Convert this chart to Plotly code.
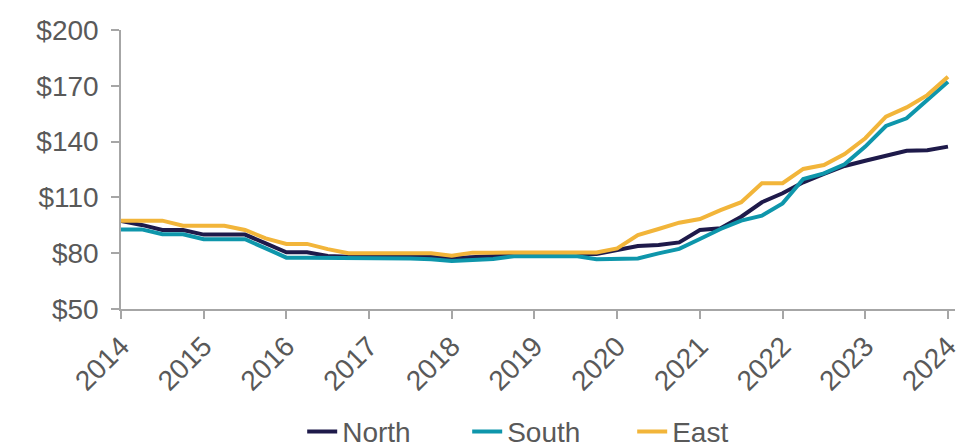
import plotly.graph_objects as go

quarters = [2014 + i * 0.25 for i in range(41)]
year_ticks = list(range(2014, 2025))
year_labels = [str(y) for y in year_ticks]
y_ticks = [50, 80, 110, 140, 170, 200]
y_labels = ["$" + str(v) for v in y_ticks]

north = [97.3, 95.2, 92.5, 92.5,
         90.0, 90.0, 90.0, 85.3,
         80.5, 80.5, 78.5, 78.1,
         78.1, 78.1, 78.1, 78.1,
         77.3, 78.0, 78.5, 79.3,
         79.6, 79.6, 79.6, 79.6,
         81.7, 83.9, 84.4, 85.8,
         92.5, 93.4, 99.6, 107.4,
         112.2, 118.1, 122.6, 126.9,
         129.7, 132.3, 135.1, 135.3,
         137.3]
south = [92.8, 92.8, 90.2, 90.2,
         87.5, 87.5, 87.5, 82.6,
         77.6, 77.6, 77.6, 77.5,
         77.3, 77.2, 77.2, 76.8,
         75.8, 76.4, 76.9, 78.3,
         78.5, 78.5, 78.5, 76.7,
         76.8, 77.2, 79.9, 82.3,
         87.6, 93.0, 97.5, 100.2,
         106.8, 119.9, 122.9, 127.8,
         137.3, 148.4, 152.5, 162.4,
         172.2]
east = [97.5, 97.5, 97.5, 94.8,
        94.8, 94.8, 92.5, 88.0,
        85.0, 85.0, 82.2, 80.0,
        80.0, 80.0, 80.0, 80.0,
        78.7, 80.3, 80.3, 80.3,
        80.4, 80.4, 80.4, 80.4,
        82.6, 89.8, 93.0, 96.4,
        98.4, 103.2, 107.4, 117.6,
        117.6, 125.3, 127.4, 133.3,
        141.8, 153.4, 158.4, 165.0,
        174.9]

series = [("North", north, "#1e1a4a"), ("South", south, "#0e96ab"), ("East", east, "#f2b53a")]

fig = go.Figure()
for name, vals, col in series:
    fig.add_trace(go.Scatter(x=quarters, y=vals, name=name, mode="lines",
                             line=dict(color=col, width=4)))

font_family = "Liberation Sans, Arial, sans-serif"
fig.update_layout(
    width=961, height=447,
    margin=dict(l=121, r=6, t=30, b=138),
    paper_bgcolor="white", plot_bgcolor="white",
    font=dict(family=font_family, size=28, color="#595959"),
    showlegend=True,
    legend=dict(orientation="h", x=0.572, xref="container", xanchor="center",
                y=0.034, yref="container", yanchor="middle",
                entrywidth=120, entrywidthmode="pixels",
                font=dict(size=28, color="#595959"), tracegroupgap=0,
                bgcolor="rgba(0,0,0,0)"),
    xaxis=dict(range=[2014, 2024.085], tickvals=year_ticks, ticktext=year_labels,
               tickangle=-45, showgrid=False, zeroline=False, automargin=False,
               ticklabeloverflow="allow",
               showline=True, linecolor="#a6a6a6", linewidth=1.5,
               ticks="outside", ticklen=8, tickcolor="#a6a6a6", tickwidth=1.5,
               tickfont=dict(size=28, color="#595959")),
    yaxis=dict(range=[50, 200], tickvals=y_ticks, ticktext=y_labels,
               showgrid=False, zeroline=False, automargin=False,
               ticklabeloverflow="allow", ticklabelstandoff=7,
               showline=True, linecolor="#a6a6a6", linewidth=1.5,
               ticks="outside", ticklen=8, tickcolor="#a6a6a6", tickwidth=1.5,
               tickfont=dict(size=28, color="#595959")),
)

fig.write_html("out.html")
